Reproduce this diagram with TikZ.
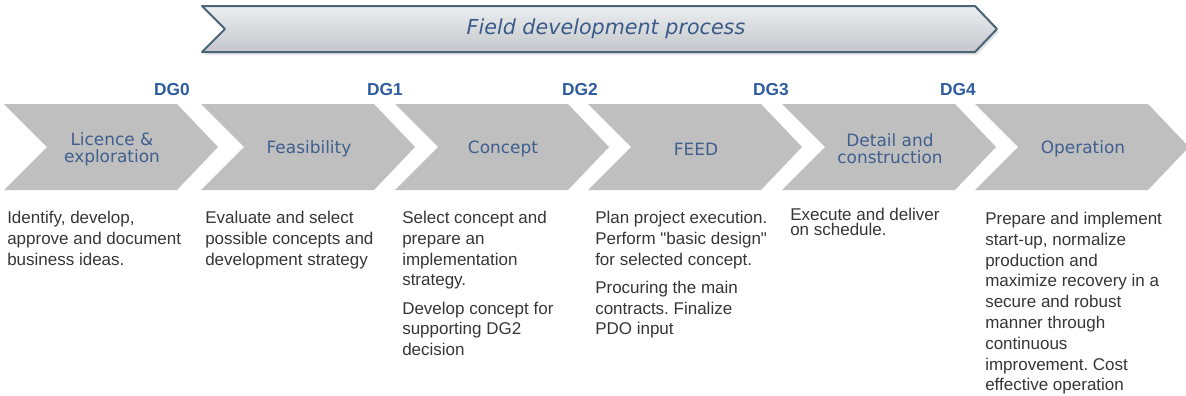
\documentclass[tikz,border=0pt]{standalone}
\usepackage{fontspec}
\setmainfont{Liberation Sans}
\newfontfamily\verd{DejaVu Sans}
\newfontfamily\plainq{Liberation Sans}
\usetikzlibrary{positioning}
\frenchspacing
\definecolor{chevfill}{HTML}{BFBFBF}
\definecolor{chevtext}{HTML}{3F5F8F}
\definecolor{dgblue}{HTML}{2F5C9E}
\definecolor{bodytext}{HTML}{363636}
\definecolor{bantop}{HTML}{ECEEF0}
\definecolor{banbot}{HTML}{C3C7CB}
\definecolor{banline}{HTML}{4A6478}
\definecolor{bantext}{HTML}{3A5A88}
\tikzset{
  chev/.style={fill=chevfill},
  chevlab/.style={font=\verd\fontsize{12.7pt}{12.8pt}\selectfont, text=chevtext, align=center, inner sep=0pt},
  dglab/.style={font=\bfseries\fontsize{13pt}{15pt}\selectfont, text=dgblue, anchor=base, inner sep=0pt},
  body/.style={font=\fontsize{12.75pt}{15.6pt}\selectfont, text=bodytext, align=left, anchor=north west, inner sep=0pt},
}
\begin{document}
\begin{tikzpicture}[x=0.75pt,y=-0.75pt]
\useasboundingbox (0,0) rectangle (1186,396);
% banner
\fill[black!30, opacity=0.35] (204,9) -- (977,9) -- (999,32) -- (977,55) -- (204,55) -- (227,32) -- cycle;
\shade[top color=bantop, bottom color=banbot, draw=banline, line width=1.5pt, line join=round]
  (202,6) -- (975,6) -- (997,29) -- (975,52) -- (202,52) -- (225,29) -- cycle;
\node[font=\verd\itshape\fontsize{15.5pt}{18pt}\selectfont, text=bantext, inner sep=0pt] (title) at (606,29) {Field development process};
% chevrons
\foreach \L/\nm/\lab in {4/lic/{Licence \&\\exploration}, 201/feas/{Feasibility}, 395/conc/{Concept}, 588/feed/{FEED}, 782/det/{Detail and\\construction}, 975/oper/{Operation}}{
  \fill[chev] (\L,104) -- ++(173,0) -- ++(41,43) -- ++(-41,43) -- ++(-173,0) -- ++(43,-43) -- cycle;
  \node[chevlab] (\nm) at (\L+108,149) {\lab};
}
% decision gates
\node[dglab] (dg0) at (172,95) {DG0};
\node[dglab] (dg1) at (385,95) {DG1};
\node[dglab] (dg2) at (580,95) {DG2};
\node[dglab] (dg3) at (771,95) {DG3};
\node[dglab] (dg4) at (958,95) {DG4};
% descriptions
\node[body] (t1) at (7,211) {Identify, develop,\\approve and document\\business ideas.};
\node[body] (t2) at (205,211) {Evaluate and select\\possible concepts and\\development strategy};
\node[body] (t3) at (402,211) {Select concept and\\prepare an\\implementation\\strategy.\\[5.5pt]Develop concept for\\supporting DG2\\decision};
\node[body] (t4) at (595,211) {Plan project execution.\\Perform {\plainq"}basic design{\plainq"}\\for selected concept.\\[5.5pt]Procuring the main\\contracts. Finalize\\PDO input};
\node[body, font=\fontsize{12.75pt}{11.5pt}\selectfont] (t5) at (790,208) {Execute and deliver\\on schedule.};
\node[body] (t6) at (985,212) {Prepare and implement\\start-up, normalize\\production and\\maximize recovery in a\\secure and robust\\manner through\\continuous\\improvement. Cost\\effective operation};
\end{tikzpicture}
\end{document}
